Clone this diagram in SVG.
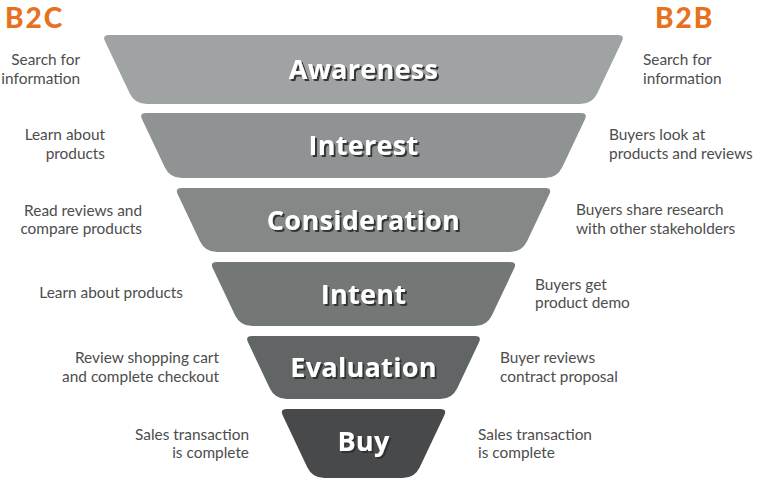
<svg xmlns="http://www.w3.org/2000/svg" width="759" height="479" viewBox="0 0 759 479">
<defs>
<filter id="sh" x="-10%" y="-30%" width="130%" height="170%">
<feDropShadow dx="2" dy="2" stdDeviation="0.6" flood-color="#2e2e2e" flood-opacity="0.95"/>
</filter>
</defs>
<style>
.hd{font-family:Lato,"Liberation Sans",sans-serif;font-weight:900;font-size:28px;letter-spacing:2px;fill:#e8711f}
.lb{font-family:"Open Sans","Liberation Sans",sans-serif;font-weight:700;font-size:27px;fill:#ffffff;text-anchor:middle;letter-spacing:0.3px;filter:url(#sh)}
.tx{font-family:Lato,"Liberation Sans",sans-serif;font-size:15.4px;fill:#4d4d4d}
.l{text-anchor:end}
.r{text-anchor:start}
</style>
<rect width="759" height="479" fill="#ffffff"/>
<text class="hd" x="5" y="28">B2C</text>
<text class="hd" x="655" y="28">B2B</text>

<g id="awareness">
<path fill="#a0a3a4" d="M109,35 L618,35 Q625,35 622,41.32 L597.35,93.16 Q592.2,104 580.2,104 L146.8,104 Q134.8,104 129.65,93.16 L105,41.32 Q102,35 109,35Z"/>
<text class="lb" x="363.5" y="79">Awareness</text>
<text class="tx l" x="80" y="65">Search for</text>
<text class="tx l" x="80" y="83.5">information</text>
<text class="tx r" x="643" y="65">Search for</text>
<text class="tx r" x="643" y="83.5">information</text>
</g>

<g id="interest">
<path fill="#8f9393" d="M146.05,113 L580.95,113 Q587.95,113 584.95,119.32 L562.25,167.16 Q557.1,178 545.1,178 L181.9,178 Q169.9,178 164.75,167.16 L142.05,119.32 Q139.05,113 146.05,113Z"/>
<text class="lb" x="363.5" y="155">Interest</text>
<text class="tx l" x="105" y="140">Learn about</text>
<text class="tx l" x="105" y="158.5">products</text>
<text class="tx r" x="609" y="140">Buyers look at</text>
<text class="tx r" x="609" y="158.5">products and reviews</text>
</g>

<g id="consideration">
<path fill="#848887" d="M181.7,188 L545.3,188 Q552.3,188 549.3,194.32 L527.05,241.16 Q521.9,252 509.9,252 L217.1,252 Q205.1,252 199.95,241.16 L177.7,194.32 Q174.7,188 181.7,188Z"/>
<text class="lb" x="363.5" y="229.5">Consideration</text>
<text class="tx l" x="142" y="215.5">Read reviews and</text>
<text class="tx l" x="142" y="233.5">compare products</text>
<text class="tx r" x="576" y="215">Buyers share research</text>
<text class="tx r" x="576" y="233.5">with other stakeholders</text>
</g>

<g id="intent">
<path fill="#737776" d="M216.8,262 L510.2,262 Q517.2,262 514.2,268.32 L491.95,315.16 Q486.8,326 474.8,326 L252.2,326 Q240.2,326 235.05,315.16 L212.8,268.32 Q209.8,262 216.8,262Z"/>
<text class="lb" x="363.5" y="303.5">Intent</text>
<text class="tx l" x="183" y="298">Learn about products</text>
<text class="tx r" x="535" y="289.5">Buyers get</text>
<text class="tx r" x="535" y="308">product demo</text>
</g>

<g id="evaluation">
<path fill="#616566" d="M252,336 L475,336 Q482,336 479,342.32 L457.25,388.16 Q452.1,399 440.1,399 L286.9,399 Q274.9,399 269.75,388.16 L248,342.32 Q245,336 252,336Z"/>
<text class="lb" x="363.5" y="377">Evaluation</text>
<text class="tx l" x="219" y="363">Review shopping cart</text>
<text class="tx l" x="219" y="381.5">and complete checkout</text>
<text class="tx r" x="500" y="363">Buyer reviews</text>
<text class="tx r" x="500" y="381.5">contract proposal</text>
</g>

<g id="buy">
<path fill="#47494b" d="M286.65,409 L440.35,409 Q447.35,409 444.35,415.32 L419.75,467.16 Q414.6,478 402.6,478 L324.4,478 Q312.4,478 307.25,467.16 L282.65,415.32 Q279.65,409 286.65,409Z"/>
<text class="lb" x="363.5" y="451">Buy</text>
<text class="tx l" x="249" y="439.5">Sales transaction</text>
<text class="tx l" x="249" y="458">is complete</text>
<text class="tx r" x="478" y="439.5">Sales transaction</text>
<text class="tx r" x="478" y="458">is complete</text>
</g>

<g id="connectors"></g>
</svg>
